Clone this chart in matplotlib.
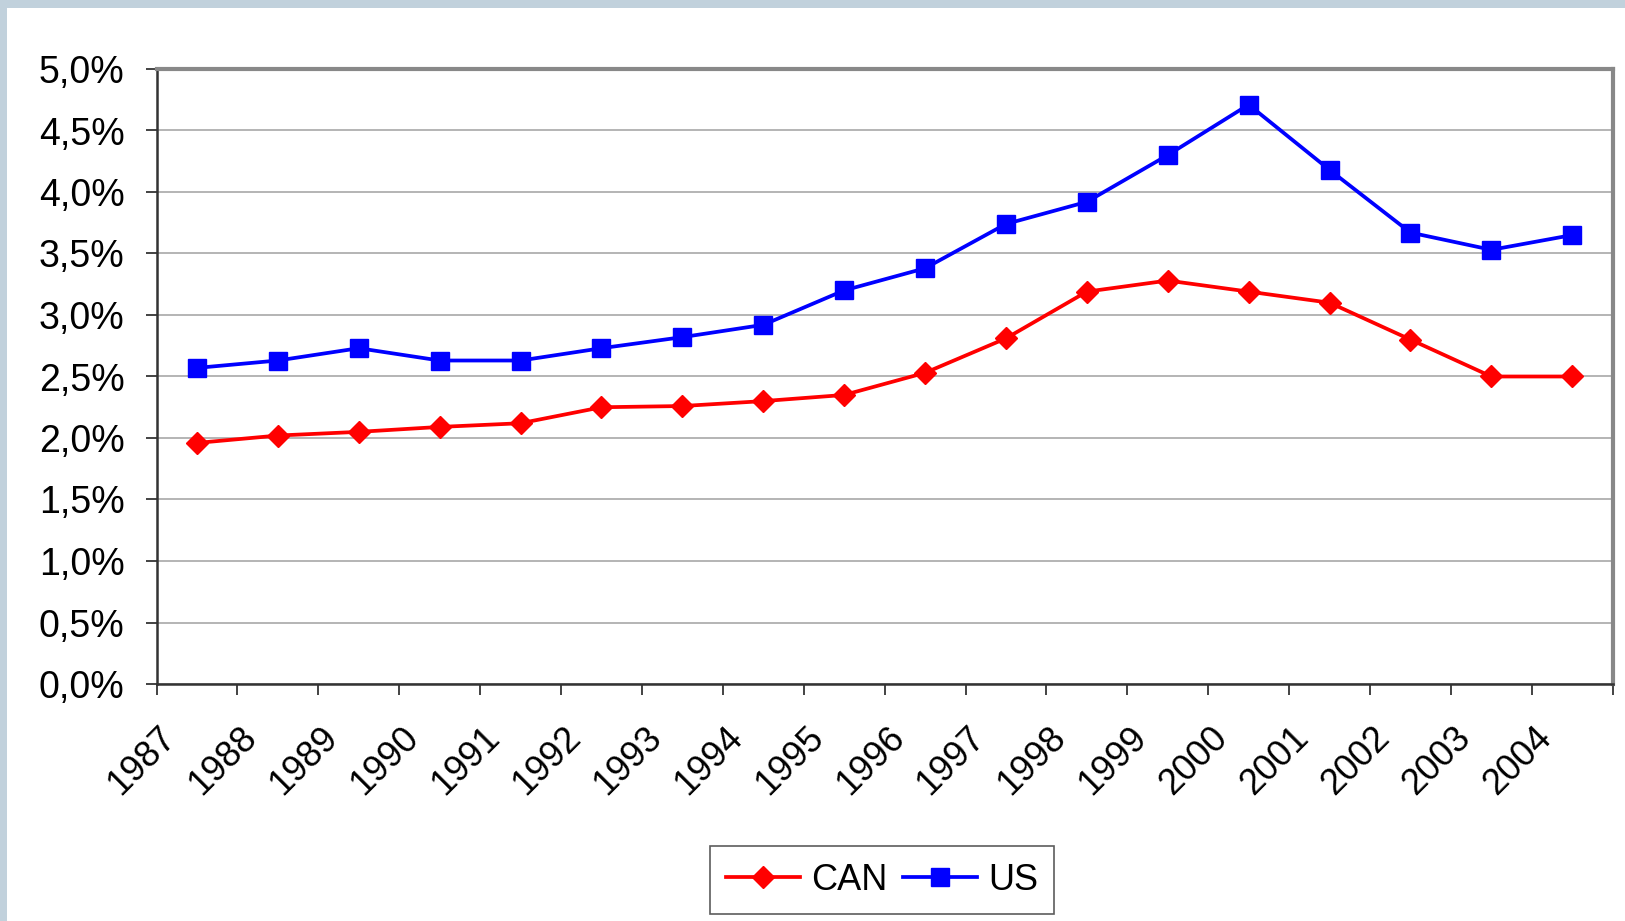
import matplotlib
matplotlib.use("Agg")
import matplotlib.pyplot as plt
import matplotlib.transforms as mtransforms
from matplotlib.patches import Rectangle
from matplotlib.ticker import FuncFormatter, MultipleLocator

# Data (percent)
years = ['1987', '1988', '1989', '1990', '1991', '1992', '1993', '1994', '1995',
         '1996', '1997', '1998', '1999', '2000', '2001', '2002', '2003', '2004']
can = [1.96, 2.02, 2.05, 2.09, 2.12, 2.25, 2.26, 2.30, 2.35,
       2.53, 2.81, 3.19, 3.28, 3.19, 3.10, 2.80, 2.50, 2.50]
us = [2.57, 2.63, 2.73, 2.63, 2.63, 2.73, 2.82, 2.92, 3.20,
      3.38, 3.74, 3.92, 4.30, 4.71, 4.18, 3.67, 3.53, 3.65]

plt.rcParams['font.family'] = ['Liberation Sans', 'DejaVu Sans']

W, H = 1625, 921
fig = plt.figure(figsize=(W / 100, H / 100), dpi=100)
fig.patch.set_facecolor('#c1d1dc')
# white page inside the light blue frame (top and left edges only)
fig.patches.append(Rectangle((7 / W, 0), 1, 1 - 8 / H, transform=fig.transFigure,
                             facecolor='white', edgecolor='none', zorder=-10))

ax = fig.add_axes([156.5 / W, 1 - 684 / H, (1612.7 - 156.5) / W, (684 - 69) / H])
ax.set_facecolor('white')

x = list(range(len(years)))
ax.plot(x, can, color='#ff0000', lw=2.7, marker='D', markersize=11.5,
        label='CAN', zorder=3)
ax.plot(x, us, color='#0000ff', lw=2.7, marker='s', markersize=13,
        label='US', zorder=3)

ax.set_xlim(-0.5, len(years) - 0.5)
ax.set_ylim(0, 5)

# y axis
ax.yaxis.set_major_locator(MultipleLocator(0.5))
ax.yaxis.set_major_formatter(FuncFormatter(lambda v, p: f'{v:.1f}%'.replace('.', ',')))
ax.tick_params(axis='y', which='major', length=8, width=1.2, color='#222222',
               pad=15, labelsize=27, direction='out')
ax.grid(axis='y', color='#a8a8a8', lw=1.2, zorder=0)
ax.set_axisbelow(True)

# x axis: ticks between categories, labels centred on categories
ax.set_xticks([i - 0.5 for i in range(len(years) + 1)])
ax.set_xticklabels([])
ax.tick_params(axis='x', which='major', length=8, width=1.2, color='#222222',
               direction='out')
ax.set_xticks(x, minor=True)
ax.set_xticklabels(years, minor=True, rotation=45, ha='right', va='center',
                   rotation_mode='anchor', fontsize=26)
ax.tick_params(axis='x', which='minor', length=0, pad=35)
shift = mtransforms.ScaledTranslation(-0.26, 0, fig.dpi_scale_trans)
for lab in ax.get_xticklabels(minor=True):
    lab.set_transform(lab.get_transform() + shift)

for side in ['left', 'bottom']:
    ax.spines[side].set_color('#333333')
    ax.spines[side].set_linewidth(1.8)
for side in ['top', 'right']:
    ax.spines[side].set_color('#888888')
    ax.spines[side].set_linewidth(3)

leg = fig.legend(loc='center', bbox_to_anchor=(882 / W, 1 - 880 / H), ncol=2,
                 fontsize=26, frameon=True, fancybox=False, handlelength=2.05,
                 handletextpad=0.3, columnspacing=0.45, borderpad=0.45)
leg.get_frame().set_edgecolor('#333333')
leg.get_frame().set_linewidth(1.2)

fig.savefig('out.png', dpi=100, facecolor=fig.get_facecolor())
